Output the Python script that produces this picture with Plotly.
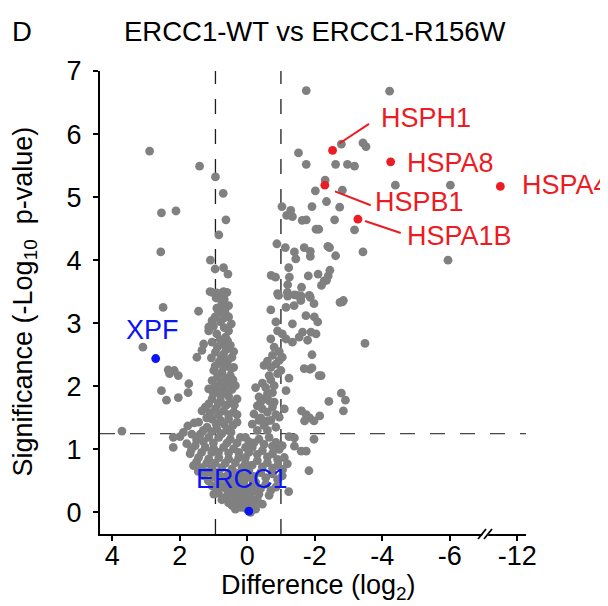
import plotly.graph_objects as go

# ---------------- data ----------------
# gray proteins (Difference log2, -log10 p-value), grouped by region of the plot
upper_left_diff = [2.89, 1.41, 0.94, 0.71, 2.54, 2.11, 0.63, 0.84, 2.56, 1.09, 0.95, 0.70, 0.57, 1.10, 0.90, 0.70, 0.70]
upper_left_sig = [5.73, 5.49, 5.32, 5.06, 4.75, 4.78, 4.64, 4.40, 4.13, 4.00, 3.86, 3.88, 3.78, 3.50, 3.48, 3.50, 3.42]

upper_right_diff = [-1.75, -4.22, -1.52, -1.75, -2.79, -2.62, -2.97, -3.18, -3.43, -3.52,
                    -2.31, -2.02, -2.82, -4.39, -6.02, -1.03, -1.29, -1.17, -1.34, -1.92,
                    -2.35, -2.74, -1.63, -1.75, -2.59, -2.04, -2.12, -3.18, -3.43, -5.95,
                    -0.88, -1.13, -1.40, -1.44, -1.69, -1.87, -1.87, -2.39, -2.44, -2.62,
                    -0.71, -0.84, -1.23, -1.25, -1.20, -1.81, -1.61, -2.10, -2.45, -2.40,
                    -2.28, -2.20, -2.35, -0.93, -1.20, -1.40, -1.60, -1.87, -2.85]
upper_right_sig = [6.69, 6.68, 5.70, 5.52, 5.84, 5.52, 5.52, 5.49, 5.86, 5.80,
                   5.27, 5.10, 5.11, 5.19, 5.19, 4.85, 4.79, 4.71, 4.69, 4.85,
                   4.93, 4.84, 4.63, 4.64, 4.64, 4.49, 4.49, 4.48, 4.13, 4.00,
                   4.26, 4.20, 4.13, 4.02, 4.20, 4.14, 4.06, 4.22, 4.20, 4.07,
                   3.76, 3.73, 3.88, 3.73, 3.61, 3.75, 3.57, 3.78, 3.84, 3.75,
                   3.67, 3.60, 3.68, 3.44, 3.43, 3.45, 3.43, 3.41, 3.36]

mid_right_diff = [-2.75, -2.82, -1.98, -0.70, -1.19, -1.49, -1.59, -1.84, -1.15, -1.39,
                  -1.74, -1.99, -2.09, -1.34, -0.85, -1.64, -1.89, -2.04, -1.54, -1.34,
                  -1.15, -1.79, -0.70, -1.04, -0.90, -3.49, -1.92, -1.86, -1.92, -2.19,
                  -1.69, -2.13, -1.24, -2.79, -2.91, -2.85, -2.42, -1.61, -1.75, -1.85,
                  -1.70, -2.15, -1.98, -1.98, -1.40, -1.60, -1.75, -1.40, -1.83, -1.23,
                  -1.24, -0.90]
mid_right_sig = [3.33, 3.34, 3.31, 3.21, 3.49, 3.44, 3.36, 3.44, 3.25, 3.28,
                 3.12, 3.10, 3.02, 2.99, 3.02, 2.86, 2.86, 2.83, 2.78, 2.70,
                 2.75, 2.73, 2.75, 2.83, 2.88, 2.68, 2.50, 2.27, 2.29, 2.17,
                 2.28, 2.17, 2.13, 1.89, 1.78, 1.61, 1.76, 1.61, 1.55, 1.50,
                 1.45, 1.53, 1.45, 1.16, 1.18, 0.97, 0.97, 1.05, 0.66, 0.33,
                 1.20, 3.47]

right_arm_diff = [-0.75, -0.95, -1.04, -0.50, -0.70, -0.65, -0.90, -0.25, -0.55, -0.80,
                  -1.15, -0.35, -0.50, -0.65, -0.80, -0.45, -0.75, -0.60, -1.10, -0.35,
                  -0.70, -0.95, -0.50, -0.85, -0.20, -0.30,
                  -0.40, -0.60, -0.85, -0.40, -0.60, -0.75, -0.45, -0.70, -0.85, -0.60,
                  -0.95, -0.80, -1.00, -0.30, -0.60, -0.15]
right_arm_sig = [2.49, 2.41, 2.46, 2.33, 2.30, 2.17, 2.20, 1.98, 1.98, 2.01,
                 1.93, 1.83, 1.80, 1.77, 1.75, 1.64, 1.67, 1.59, 1.64, 1.46,
                 1.46, 1.51, 1.38, 1.35, 1.56, 1.69,
                 1.50, 1.45, 1.55, 1.75, 1.88, 1.90, 2.05, 2.10, 2.35, 2.40,
                 2.55, 2.62, 2.25, 1.30, 1.30, 1.40]

right_low_diff = [0.05, -0.35, -0.65, -0.85, -1.04, -0.15, -0.45, -0.75, -1.10, 0.05,
                  -0.30, -0.60, -0.90, -1.19, -0.05, -0.40, -0.75, -1.04, 0.10, -0.25,
                  -0.55, -0.85, -0.05, -0.35, -0.65, -0.15, -0.45, 0.10,
                  -0.20, -0.50, -0.75, -0.95, -0.30, -0.60, -0.90, -0.15, -0.45, -0.75,
                  -1.05, -0.20, -0.55, -0.90, -0.40, -0.70, -0.25]
right_low_sig = [1.19, 1.16, 1.19, 1.11, 1.06, 1.03, 0.98, 0.93, 0.87, 0.87,
                 0.82, 0.79, 0.74, 0.77, 0.66, 0.63, 0.61, 0.58, 0.50, 0.48,
                 0.45, 0.40, 0.32, 0.29, 0.27, 0.16, 0.13, 0.08,
                 1.10, 1.08, 1.05, 1.00, 0.92, 0.88, 0.84, 0.75, 0.72, 0.70,
                 0.68, 0.57, 0.55, 0.52, 0.38, 0.35, 0.34]

left_arm_diff = [1.04, 0.79, 0.60, 0.75, 0.55, 0.84, 0.64, 1.04, 0.79, 0.47,
                 1.14, 0.90, 0.64, 1.04, 0.75, 0.50, 0.94, 0.70, 0.45, 0.84,
                 0.60, 0.40, 0.99, 0.75, 0.50, 1.04, 0.79, 0.55, 0.35, 1.14,
                 0.90, 0.64, 1.04, 0.79, 0.50, 0.30, 1.24, 0.94, 0.70, 0.40,
                 1.04, 0.79, 0.55, 0.30, 1.44, 1.19, 0.90, 0.60,
                 0.92, 0.68, 0.90, 0.65, 0.95, 0.70, 0.55, 1.00, 0.68, 0.55,
                 0.80, 0.58, 0.88, 0.62, 0.40, 1.06, 0.78, 0.56, 0.95, 0.70,
                 0.48, 0.88, 0.64, 0.42, 0.95, 0.70, 0.45, 1.00, 0.78, 0.55,
                 0.38, 0.62, 0.86, 1.10, 0.85, 0.55, 0.30, 1.20, 0.92, 0.68,
                 0.42, 1.30, 0.75, 0.48, 1.05]
left_arm_sig = [3.49, 3.47, 3.49, 3.31, 3.28, 3.17, 3.15, 3.04, 3.02, 2.99,
                2.88, 2.83, 2.78, 2.70, 2.67, 2.65, 2.54, 2.51, 2.46, 2.38,
                2.36, 2.30, 2.25, 2.22, 2.17, 2.09, 2.06, 2.04, 2.01, 1.96,
                1.93, 1.90, 1.80, 1.77, 1.75, 1.80, 1.67, 1.64, 1.61, 1.59,
                1.48, 1.46, 1.48, 1.43, 1.43, 1.35, 1.32, 1.32,
                3.40, 3.38, 3.24, 3.23, 3.10, 3.08, 3.10, 2.95, 2.93, 2.88,
                2.74, 2.72, 2.62, 2.58, 2.55, 2.45, 2.44, 2.42, 2.32, 2.30,
                2.28, 2.15, 2.13, 2.10, 2.00, 1.98, 1.95, 1.88, 1.85, 1.84,
                1.70, 1.70, 1.72, 1.58, 1.55, 1.55, 1.55, 1.50, 1.40, 1.40,
                1.38, 1.30, 1.25, 1.27, 1.28]

left_low_diff = [1.89, 1.64, 1.39, 1.14, 0.84, 0.50, 0.20,
                 1.79, 1.54, 1.24, 0.99, 0.70, 0.40, 0.05,
                 1.69, 1.44, 1.14, 0.84, 0.55, 0.25,
                 1.59, 1.34, 1.04, 0.75, 0.45, 0.15,
                 1.29, 0.99, 0.70, 0.40, 0.10,
                 1.04, 0.75, 0.45, 0.15,
                 0.64, 0.35, 0.05,
                 0.45, 0.20, -0.10,
                 0.99,
                 0.00, 0.15, -0.20, 0.30, 0.05, 0.20, -0.10, 0.35, 0.10, -0.20,
                 0.50, 0.25, -0.05, 0.60, 0.30, 0.85, 0.55,
                 1.50, 1.30, 1.00, 0.60, 0.30, -0.05, 1.65, 1.35, 1.05, 0.85,
                 0.55, 0.25, -0.05, 1.50, 1.20, 0.95, 0.65, 0.35, 0.05, 1.45,
                 1.15, 0.85, 0.55, 0.20, 1.15, 0.85, 0.55, 0.30, -0.15, 0.90,
                 0.60, 0.30, 0.00, 0.75, 0.45, 0.20, -0.05, 0.35, 0.10, -0.30,
                 -0.25]
left_low_sig = [1.27, 1.24, 1.24, 1.19, 1.19, 1.16, 1.19,
                1.09, 1.06, 1.03, 1.01, 1.03, 1.01, 1.03,
                0.93, 0.87, 0.85, 0.87, 0.85, 0.87,
                0.74, 0.71, 0.69, 0.71, 0.69, 0.71,
                0.58, 0.56, 0.56, 0.53, 0.56,
                0.42, 0.40, 0.40, 0.40,
                0.24, 0.24, 0.27,
                0.11, 0.08, 0.00,
                0.29,
                0.05, 0.10, 0.10, 0.15, 0.20, 0.30, 0.25, 0.35, 0.45, 0.40,
                0.30, 0.50, 0.60, 0.50, 0.62, 0.30, 0.15,
                1.15, 1.12, 1.10, 1.10, 1.10, 1.12, 1.00, 0.95, 0.95, 0.95,
                0.94, 0.95, 0.95, 0.80, 0.78, 0.78, 0.78, 0.79, 0.78, 0.65,
                0.64, 0.63, 0.62, 0.63, 0.50, 0.48, 0.45, 0.45, 0.52, 0.36,
                0.36, 0.32, 0.38, 0.20, 0.22, 0.20, 0.15, 0.05, 0.15, 0.20,
                0.05]

left_out_diff = [2.49, 1.44, 3.09, 2.34, 2.16, 2.04, 2.30, 2.54, 2.39, 2.04,
                 1.75, 1.49, 1.29, 1.34, 1.14, 3.71, 2.19, 1.99, 2.19, 1.76,
                 1.57, 1.34, 1.14, 1.73]
left_out_sig = [3.25, 3.19, 2.62, 2.26, 2.25, 2.17, 2.20, 1.93, 1.78, 1.82,
                1.90, 2.46, 2.67, 2.57, 2.94, 1.29, 1.19, 1.20, 1.03, 1.37,
                1.42, 1.61, 1.72, 2.04]

# highlighted proteins
red_names = ["HSPH1", "HSPA8", "HSPA4", "HSPB1", "HSPA1B"]
red_diff = [-2.53, -4.25, -11.5, -2.30, -3.28]
red_sig = [5.74, 5.56, 5.17, 5.19, 4.65]

blue_names = ["XPF", "ERCC1"]
blue_diff = [2.71, -0.05]
blue_sig = [2.44, 0.02]

# axis ticks
x_tick_values = [4, 2, 0, -2, -4, -6, -12]
y_tick_values = [0, 1, 2, 3, 4, 5, 6, 7]

# thresholds
sig_threshold = 1.25
diff_thresholds = [0.94, -1.0]

# ---------------- helpers ----------------
BREAK_AT = -7.0   # x axis break: values beyond it are compressed
BREAK_SHIFT = 4.0


def xpos(v):
    return v + BREAK_SHIFT if v < BREAK_AT else v


groups = [
    (upper_left_diff, upper_left_sig), (upper_right_diff, upper_right_sig),
    (mid_right_diff, mid_right_sig), (right_arm_diff, right_arm_sig),
    (right_low_diff, right_low_sig), (left_arm_diff, left_arm_sig),
    (left_low_diff, left_low_sig), (left_out_diff, left_out_sig),
]
gx, gy = [], []
for d, s in groups:
    n = min(len(d), len(s))
    gx += [xpos(v) for v in d[:n]]
    gy += s[:n]

FONT = "Arial, 'Liberation Sans', Helvetica, sans-serif"
GRAY = "rgb(128,128,128)"
RED = "rgb(236,28,36)"
BLUE = "rgb(10,20,245)"
FS = 27

# page body has an 8px margin: the figure is sized so that it fits the 608x606 window
W, H = 600, 598
PLOT_L, PLOT_T, PLOT_W, PLOT_H = 92, 63, 426, 463

fig = go.Figure()
fig.add_trace(go.Scatter(x=gx, y=gy, mode="markers",
                         marker=dict(size=8.8, color=GRAY, line=dict(width=0)),
                         hoverinfo="skip", cliponaxis=False))
fig.add_trace(go.Scatter(x=[xpos(v) for v in red_diff], y=red_sig, mode="markers",
                         text=red_names,
                         marker=dict(size=8.8, color=RED, line=dict(width=0)),
                         cliponaxis=False))
fig.add_trace(go.Scatter(x=[xpos(v) for v in blue_diff], y=blue_sig, mode="markers",
                         text=blue_names,
                         marker=dict(size=8.8, color=BLUE, line=dict(width=0)),
                         cliponaxis=False))

shapes = []
for t in diff_thresholds:
    shapes.append(dict(type="line", xref="x", yref="paper", x0=xpos(t), x1=xpos(t),
                       y0=0, y1=1, layer="below",
                       line=dict(color="rgb(30,30,30)", width=1.3, dash="15px,15px")))
shapes.append(dict(type="line", xref="paper", yref="y", x0=0, x1=1,
                   y0=sig_threshold, y1=sig_threshold, layer="below",
                   line=dict(color="rgb(70,70,70)", width=1.3, dash="15px,15px")))

# leader lines (axis positions)
leaders = [((-2.73, 5.85), (-3.61, 6.16)),
           ((-2.60, 5.09), (-3.66, 4.87)),
           ((-3.49, 4.62), (-4.55, 4.43))]
for (a, b) in leaders:
    shapes.append(dict(type="line", xref="x", yref="y", x0=a[0], y0=a[1], x1=b[0], y1=b[1],
                       line=dict(color=RED, width=2)))

# axis break marks "//"
brk_x = (486 - 100) / 426
shapes.append(dict(type="path", xref="paper", yref="paper", xsizemode="pixel", ysizemode="pixel",
                   xanchor=brk_x, yanchor=0, path="M -6,-5 L 0,-5 L 6,5 L 0,5 Z",
                   fillcolor="white", line=dict(width=0), layer="above"))
for off in (-4, 2):
    shapes.append(dict(type="line", xref="paper", yref="paper", xsizemode="pixel", ysizemode="pixel",
                       xanchor=brk_x, yanchor=0, x0=off - 4, y0=-5, x1=off + 4, y1=5,
                       line=dict(color="black", width=1.8), layer="above"))

annotations = []
red_label_pos = [(-3.93, 6.25), (-4.70, 5.54), (-8.10, 5.20), (-3.75, 4.92), (-4.70, 4.39)]
for name, (lx, ly) in zip(red_names, red_label_pos):
    annotations.append(dict(x=lx, y=ly, xref="x", yref="y", text=name, showarrow=False,
                            xanchor="left", yanchor="middle", borderpad=0,
                            font=dict(family=FONT, size=FS, color=RED)))
blue_label_pos = [(2.81, 2.90), (0.16, 0.53)]
for name, (lx, ly) in zip(blue_names, blue_label_pos):
    annotations.append(dict(x=lx, y=ly, xref="x", yref="y", text=name, showarrow=False,
                            xanchor="center", yanchor="middle", borderpad=0,
                            font=dict(family=FONT, size=FS, color=BLUE)))


def px_to_paper(px, py):
    # reference-picture pixel -> paper fraction of the plot area
    return (px - 100) / 426, (533.3 - py) / 462.6


tx, ty = px_to_paper(315, 31)
annotations.append(dict(x=tx, y=ty, xref="paper", yref="paper",
                        text="ERCC1-WT vs ERCC1-R156W", showarrow=False,
                        xanchor="center", yanchor="middle",
                        font=dict(family=FONT, size=27.5, color="black")))
tx, ty = px_to_paper(22, 31)
annotations.append(dict(x=tx, y=ty, xref="paper", yref="paper",
                        text="D", showarrow=False, xanchor="center", yanchor="middle",
                        font=dict(family=FONT, size=27.5, color="black")))
tx, ty = px_to_paper(318, 586)
annotations.append(dict(x=tx, y=ty, xref="paper", yref="paper",
                        text="Difference (log<sub>2</sub>)", showarrow=False,
                        xanchor="center", yanchor="middle",
                        font=dict(family=FONT, size=FS, color="black")))
tx, ty = px_to_paper(25, 301)
annotations.append(dict(x=tx, y=ty, xref="paper", yref="paper",
                        text="Significance (-Log<sub>10</sub>\u00a0\u00a0p-value)", showarrow=False,
                        textangle=-90, xanchor="center", yanchor="middle", borderpad=0,
                        font=dict(family=FONT, size=FS, color="black")))

fig.update_layout(
    width=W, height=H,
    margin=dict(l=PLOT_L, r=W - PLOT_L - PLOT_W, t=PLOT_T, b=H - PLOT_T - PLOT_H, pad=0),
    paper_bgcolor="white", plot_bgcolor="white",
    showlegend=False,
    font=dict(family=FONT, size=FS, color="black"),
    shapes=shapes, annotations=annotations,
    xaxis=dict(range=[4.36, -8.26], showgrid=False, zeroline=False,
               showline=True, linecolor="black", linewidth=2,
               ticks="outside", ticklen=5, tickwidth=2, tickcolor="black",
               ticklabelstandoff=-8,
               tickvals=[xpos(v) for v in x_tick_values],
               ticktext=[str(v) for v in x_tick_values],
               tickfont=dict(family=FONT, size=FS, color="black")),
    yaxis=dict(range=[-0.343, 7.0], showgrid=False, zeroline=False,
               showline=True, linecolor="black", linewidth=2,
               ticks="outside", ticklen=5, tickwidth=2, tickcolor="black",
               ticklabelstandoff=6,
               tickvals=y_tick_values, ticktext=[str(v) for v in y_tick_values],
               tickfont=dict(family=FONT, size=FS, color="black")),
)

fig.write_html("out.html")
